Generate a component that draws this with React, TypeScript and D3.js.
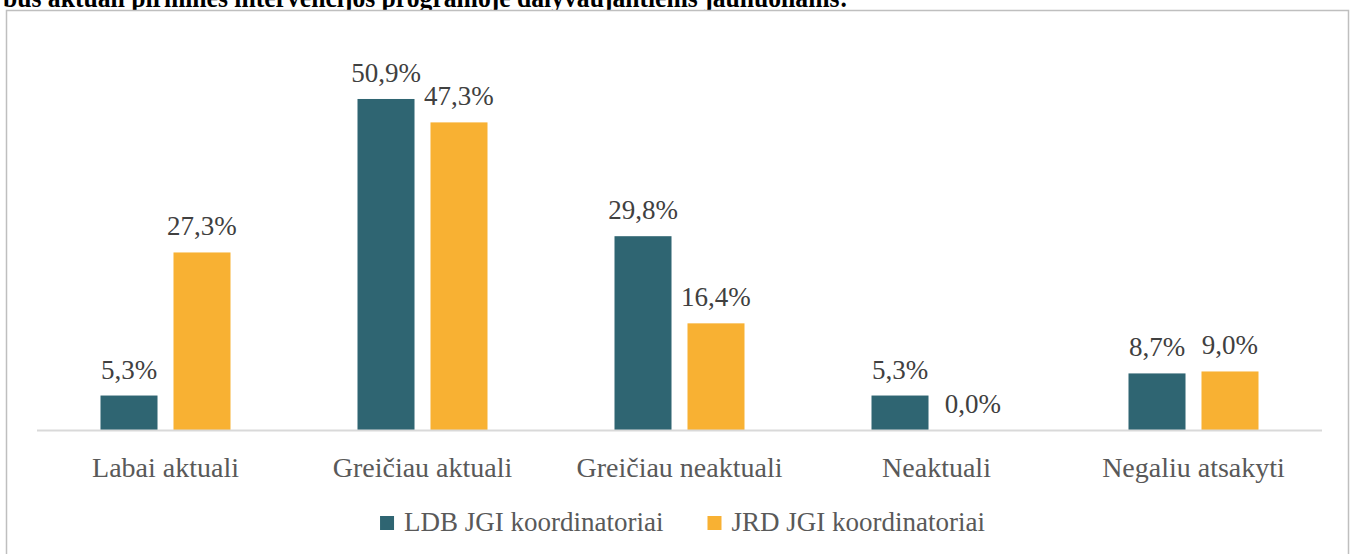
import { useEffect, useRef } from 'react'
import * as d3 from 'd3'

const categories = ['Labai aktuali', 'Greičiau aktuali', 'Greičiau neaktuali', 'Neaktuali', 'Negaliu atsakyti']
const ldbValues = [5.3, 50.9, 29.8, 5.3, 8.7]
const jrdValues = [27.3, 47.3, 16.4, 0.0, 9.0]
const seriesNames = ['LDB JGI koordinatoriai', 'JRD JGI koordinatoriai']
const seriesColors = ['#2F6572', '#F8B133']
const title = 'bus aktuali pirminės intervencijos programoje dalyvaujantiems jaunuoliams:'

const W = 1354
const H = 554
const FONT = '"Liberation Serif", "Times New Roman", serif'

export default function App() {
  const svgRef = useRef<SVGSVGElement>(null)

  useEffect(() => {
    if (!svgRef.current) return
    const svg = d3.select(svgRef.current)
    svg.selectAll('*').remove()

    // title sits mostly above the page edge, only its lower part shows
    svg.append('text')
      .attr('x', 3)
      .attr('y', 7)
      .attr('font-family', FONT)
      .attr('font-weight', 'bold')
      .attr('font-size', '28px')
      .attr('fill', '#000')
      .attr('textLength', 845)
      .attr('lengthAdjust', 'spacingAndGlyphs')
      .text(title)

    // chart frame
    svg.append('rect')
      .attr('x', 6.5)
      .attr('y', 10.5)
      .attr('width', 1342)
      .attr('height', 560)
      .attr('fill', '#fff')
      .attr('stroke', '#BFBFBF')
      .attr('stroke-width', 1.5)

    const x0 = d3.scaleBand().domain(categories).range([37, 1322])
    const x1 = d3.scaleBand().domain(seriesNames).range([0, x0.bandwidth()]).paddingInner(0.219).paddingOuter(0.87)
    const y = d3.scaleLinear().domain([0, 60]).range([430, 39.8])

    const rows = categories.map((c, i) => ({ cat: c, vals: [ldbValues[i], jrdValues[i]] }))

    const g = svg.append('g')
    const groups = g.selectAll('g.cat').data(rows).enter().append('g')
      .attr('transform', d => `translate(${x0(d.cat)},0)`)

    groups.selectAll('rect').data(d => d.vals.map((v, j) => ({ v, j }))).enter().append('rect')
      .attr('x', d => x1(seriesNames[d.j])!)
      .attr('y', d => y(d.v))
      .attr('width', x1.bandwidth())
      .attr('height', d => y(0) - y(d.v))
      .attr('fill', d => seriesColors[d.j])

    groups.selectAll('text').data(d => d.vals.map((v, j) => ({ v, j }))).enter().append('text')
      .attr('x', d => x1(seriesNames[d.j])! + x1.bandwidth() / 2)
      .attr('y', d => y(d.v) - 17)
      .attr('text-anchor', 'middle')
      .attr('font-family', FONT)
      .attr('font-size', '27px')
      .attr('fill', '#404040')
      .text(d => d.v.toFixed(1).replace('.', ',') + '%')

    // axis line
    g.append('line')
      .attr('x1', 37).attr('x2', 1322)
      .attr('y1', 430.5).attr('y2', 430.5)
      .attr('stroke', '#D9D9D9')
      .attr('stroke-width', 2)

    // category labels
    g.selectAll('text.cat').data(categories).enter().append('text')
      .attr('class', 'cat')
      .attr('x', d => x0(d)! + x0.bandwidth() / 2)
      .attr('y', 477)
      .attr('text-anchor', 'middle')
      .attr('font-family', FONT)
      .attr('font-size', '28px')
      .attr('fill', '#595959')
      .text(d => d)

    // legend
    const legend = svg.append('g')
    const items = legend.selectAll('g').data(seriesNames).enter().append('g')
    items.append('rect')
      .attr('width', 14).attr('height', 14)
      .attr('y', 516)
      .attr('fill', (_, i) => seriesColors[i])
    const labels = items.append('text')
      .attr('x', 24)
      .attr('y', 531)
      .attr('font-family', FONT)
      .attr('font-size', '27px')
      .attr('fill', '#595959')
      .text(d => d)
    const widths = labels.nodes().map(n => (n as SVGTextElement).getComputedTextLength())
    const gap = 44
    const total = widths.reduce((a, w) => a + 24 + w, 0) + gap * (widths.length - 1)
    let cx = (37 + 1322) / 2 - total / 2 + 3
    items.each(function (_, i) {
      d3.select(this).attr('transform', `translate(${cx},0)`)
      cx += 24 + widths[i] + gap
    })
  }, [])

  return (
    <svg
      ref={svgRef}
      width={W}
      height={H}
      style={{ position: 'absolute', left: 0, top: 0, background: '#fff' }}
    />
  )
}
